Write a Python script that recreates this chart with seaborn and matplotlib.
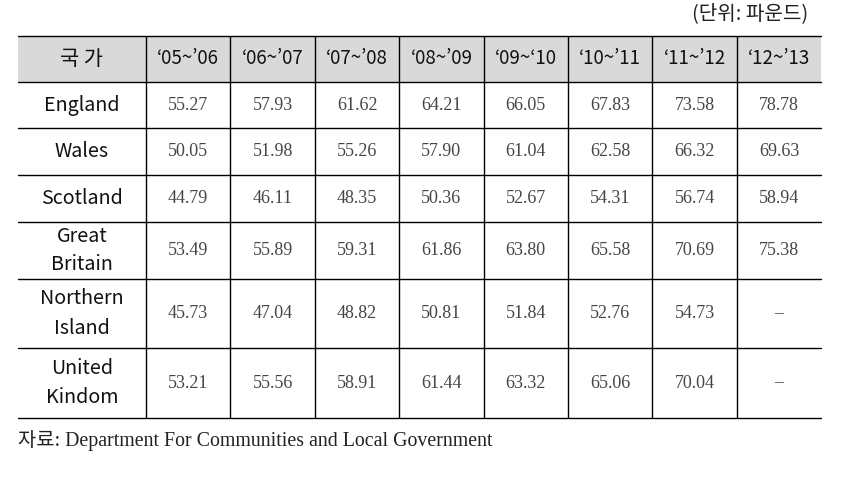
import numpy as np
import pandas as pd
import matplotlib
matplotlib.use("Agg")
import matplotlib.pyplot as plt
from matplotlib.colors import ListedColormap
import seaborn as sns

# ---------------- data ----------------
header_label = "국 가"
years = ["‘05~’06", "‘06~’07", "‘07~’08", "‘08~’09",
         "‘09~‘10", "‘10~’11", "‘11~’12", "‘12~’13"]
countries = ["England", "Wales", "Scotland", "Great\nBritain",
             "Northern\nIsland", "United\nKindom"]
england = [55.27, 57.93, 61.62, 64.21, 66.05, 67.83, 73.58, 78.78]
wales = [50.05, 51.98, 55.26, 57.90, 61.04, 62.58, 66.32, 69.63]
scotland = [44.79, 46.11, 48.35, 50.36, 52.67, 54.31, 56.74, 58.94]
great_britain = [53.49, 55.89, 59.31, 61.86, 63.80, 65.58, 70.69, 75.38]
northern_island = [45.73, 47.04, 48.82, 50.81, 51.84, 52.76, 54.73, None]
united_kingdom = [53.21, 55.56, 58.91, 61.44, 63.32, 65.06, 70.04, None]
unit_text = "(단위: 파운드)"
source_text = "자료: Department For Communities and Local Government"

series = [england, wales, scotland, great_britain, northern_island, united_kingdom]

# ---------------- table build ----------------
annot = [[header_label] + years]
for name, vals in zip(countries, series):
    annot.append([name] + ["–" if v is None else f"{v:.2f}" for v in vals])
annot = np.array(annot, dtype=object)
shade = np.zeros(annot.shape)
shade[0, :] = 1  # header row shaded

nrows, ncols = annot.shape

# layout (pixel sizes of rows / columns)
W, H = 847, 484
row_h = [46, 46, 47, 47, 57, 69, 70]
col_w = [128.5] + [84.4] * 8
left_px, top_px = 17.5, 36
tab_w, tab_h = sum(col_w), sum(row_h)

sns.set_theme(style="white")
plt.rcParams["font.family"] = ["Noto Sans CJK KR", "DejaVu Sans"]

fig = plt.figure(figsize=(W / 100, H / 100), dpi=100)
ax = fig.add_axes([left_px / W, 1 - (top_px + tab_h) / H, tab_w / W, tab_h / H])

sns.heatmap(pd.DataFrame(shade), ax=ax, cmap=ListedColormap(["white", "#d9d9d9"]),
            vmin=0, vmax=1, cbar=False, annot=annot, fmt="", linewidths=0,
            xticklabels=False, yticklabels=False, annot_kws={"color": "black"})

# piecewise-linear scales so rows/cols have their own sizes
xb = np.concatenate([[0], np.cumsum(col_w)])
yb = np.concatenate([[0], np.cumsum(row_h)])
xi = np.arange(ncols + 1)
yi = np.arange(nrows + 1)

def fx(v): return np.interp(v, xi, xb)
def ifx(v): return np.interp(v, xb, xi)
def fy(v): return np.interp(v, yi, yb)
def ify(v): return np.interp(v, yb, yi)

ax.set_xscale("function", functions=(fx, ifx))
ax.set_yscale("function", functions=(fy, ify))
ax.set_xlim(0, ncols)
ax.set_ylim(nrows, 0)
ax.set_xticks([])
ax.set_yticks([])
ax.minorticks_off()
for s in ax.spines.values():
    s.set_visible(False)

sans = ["Noto Sans CJK KR", "DejaVu Sans"]
for k, t in enumerate(ax.texts):
    i, j = divmod(k, ncols)
    if i == 0:
        t.set_fontfamily(sans)
        t.set_fontsize(13.5 if j > 0 else 15)
        t.set_color("#111111")
    elif j == 0:
        t.set_fontfamily(sans)
        t.set_fontsize(14.2)
        t.set_color("#111111")
        t.set_linespacing(1.5)
    else:
        t.set_fontfamily(["Liberation Serif", "DejaVu Serif"])
        t.set_fontsize(13)
        t.set_color("#454545")

# grid lines: horizontal full width, vertical internal only
for r in range(nrows + 1):
    ax.axhline(r, color="black", lw=1.0, clip_on=False)
for c in range(1, ncols):
    ax.axvline(c, color="black", lw=1.0)

fig.text(808 / W, 1 - 14 / H, unit_text, ha="right", va="center",
         fontsize=14.5, color="#222222",
         family=["Noto Sans CJK KR", "DejaVu Sans"])
fig.text(18 / W, 1 - 441 / H, source_text, ha="left", va="center",
         fontsize=14.3, color="#222222",
         family=["Liberation Serif", "Noto Sans CJK KR", "DejaVu Sans"])

fig.savefig("out.png", dpi=100)
